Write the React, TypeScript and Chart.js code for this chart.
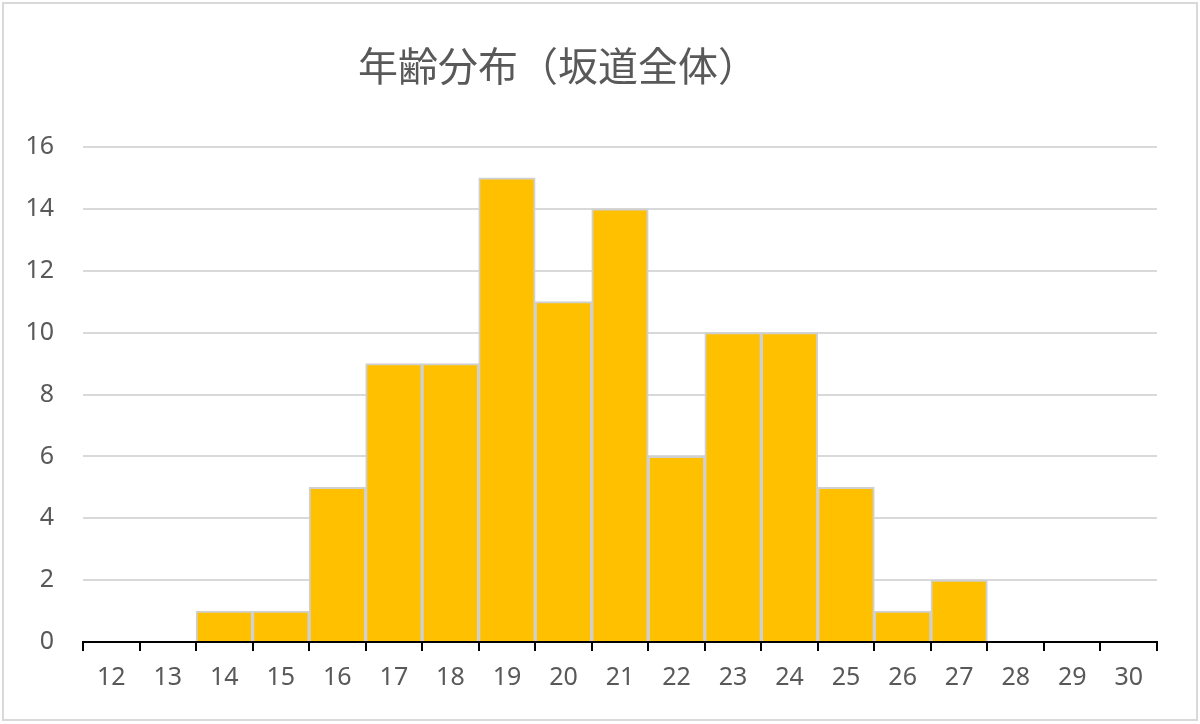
import { useEffect, useRef } from "react";
import { Chart, registerables } from "chart.js";

Chart.register(...registerables);

// 年齢ごとの人数
const AGES = ["12", "13", "14", "15", "16", "17", "18", "19", "20", "21", "22", "23", "24", "25", "26", "27", "28", "29", "30"];
const COUNTS = [0, 0, 1, 1, 5, 9, 9, 15, 11, 14, 6, 10, 10, 5, 1, 2, 0, 0, 0];
const TITLE = "年齢分布（坂道全体）";

const TEXT_COLOR = "#595959";
const NUM_FONT = "'Noto Sans', sans-serif";

// 枠線とタイトル (Excel 風に少し左寄せ)
const frame = {
  id: "frame",
  beforeDraw(chart: Chart) {
    const { ctx } = chart;
    ctx.save();
    ctx.fillStyle = "#ffffff";
    ctx.fillRect(0, 0, chart.width, chart.height);
    ctx.strokeStyle = "#d9d9d9";
    ctx.lineWidth = 2;
    ctx.strokeRect(3, 3, chart.width - 6, chart.height - 7);
    ctx.restore();
  },
  afterDraw(chart: Chart) {
    const { ctx } = chart;
    ctx.save();
    ctx.fillStyle = TEXT_COLOR;
    ctx.font = "40px 'Noto Sans CJK JP', sans-serif";
    ctx.textAlign = "center";
    ctx.textBaseline = "middle";
    ctx.fillText(TITLE, 558, 66);
    ctx.restore();
  },
};

export default function App() {
  const canvasRef = useRef<HTMLCanvasElement>(null);

  useEffect(() => {
    if (!canvasRef.current) return;
    const chart = new Chart(canvasRef.current, {
      type: "bar",
      data: {
        labels: AGES,
        datasets: [
          {
            label: "人数",
            data: COUNTS,
            backgroundColor: "#ffc000",
            borderColor: "#d0d0d0",
            borderWidth: 2,
            barPercentage: 1,
            categoryPercentage: 1,
          },
        ],
      },
      options: {
        responsive: true,
        maintainAspectRatio: false,
        animation: false,
        layout: { padding: { top: 147, right: 43, left: 0, bottom: 0 } },
        plugins: {
          legend: { display: false },
          title: { display: false },
          tooltip: { enabled: false },
        },
        scales: {
          x: {
            afterFit: (s: any) => {
              s.height = 82;
            },
            grid: {
              offset: true,
              drawOnChartArea: false,
              drawTicks: true,
              tickLength: 9,
              tickColor: "#000000",
              tickWidth: 2,
              lineWidth: 2,
              color: "#000000",
            },
            border: { display: true, color: "#000000", width: 2 },
            ticks: {
              color: TEXT_COLOR,
              padding: 12,
              font: { size: 25, family: NUM_FONT },
              maxRotation: 0,
              autoSkip: false,
            },
          },
          y: {
            min: 0,
            max: 16,
            afterFit: (s: any) => {
              s.width = 83;
            },
            grid: { color: "#d9d9d9", lineWidth: 2, drawTicks: false },
            border: { display: false },
            ticks: {
              stepSize: 2,
              color: TEXT_COLOR,
              padding: 29,
              font: { size: 25, family: NUM_FONT },
            },
          },
        },
      },
      plugins: [frame],
    });
    return () => chart.destroy();
  }, []);

  return (
    <div style={{ position: "fixed", left: 0, top: 0, width: 1200, height: 724, background: "#fff" }}>
      <canvas ref={canvasRef} />
    </div>
  );
}
